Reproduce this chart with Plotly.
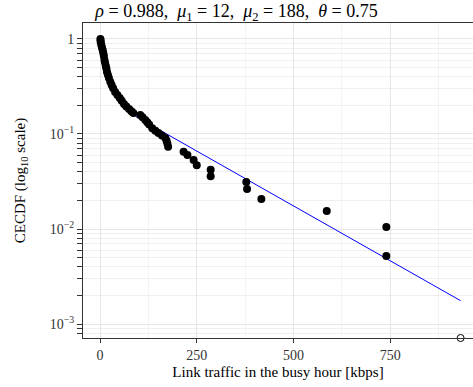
import plotly.graph_objects as go

traffic_kbps = [1, 1.5, 2, 3.4, 5, 7, 8.5, 10, 11.5, 13, 15, 16.5, 18, 20.5, 23, 26.5, 30, 34,
                39, 45, 51, 56, 62, 68, 75, 81, 86,
                104, 110, 117, 122, 127, 135, 143, 151, 160, 169, 172, 174, 176,
                216, 226, 242, 250, 286, 286, 378, 380, 417, 586, 740, 740]
cecdf = [1.0, 0.955, 0.912, 0.865, 0.813, 0.759, 0.708, 0.661, 0.601, 0.562, 0.520, 0.490,
         0.450, 0.417, 0.389, 0.355, 0.328, 0.302, 0.277, 0.257, 0.239, 0.224, 0.207, 0.195,
         0.183, 0.174, 0.166,
         0.158, 0.150, 0.140, 0.133, 0.126, 0.115, 0.108, 0.1025, 0.0966, 0.0908, 0.0851,
         0.0794, 0.0735,
         0.065, 0.060, 0.0532, 0.047, 0.042, 0.036, 0.0313, 0.0264, 0.0207, 0.0155,
         0.0105, 0.0052]

# Last point (CECDF = 0, drawn on the lower axis edge as an open circle)
zero_x = [932]
zero_y = [0.000713]

# Fitted exponential tail (straight on log scale) endpoints
fit_x = [91, 932]
fit_y = [0.154, 0.00176]

y_tickvals = [1, 0.1, 0.01, 0.001]
y_ticktext = ["1", "10<sup>\u22121</sup>", "10<sup>\u22122</sup>", "10<sup>\u22123</sup>"]
x_tickvals = [0, 250, 500, 750]
x_minor = [125, 375, 625, 875]
y_minor = [k * 10.0 ** e for e in (-4, -3, -2, -1) for k in range(2, 10)]

FONT = "Liberation Serif, DejaVu Serif, serif"

fig = go.Figure()
fig.add_trace(go.Scatter(x=fit_x, y=fit_y, mode="lines",
                         line=dict(color="#0000ff", width=1), hoverinfo="skip"))
fig.add_trace(go.Scatter(x=traffic_kbps, y=cecdf, mode="markers",
                         marker=dict(color="black", size=8, line=dict(width=0))))
fig.add_trace(go.Scatter(x=zero_x, y=zero_y, mode="markers", cliponaxis=False,
                         marker=dict(symbol="circle-open", color="black", size=7,
                                     line=dict(width=1))))

fig.update_layout(
    width=473, height=387,
    margin=dict(l=83, r=0, t=23, b=49),
    paper_bgcolor="white", plot_bgcolor="white",
    showlegend=False,
    font=dict(family=FONT, color="black", size=14),
    title=dict(
        text="<i>\u03c1</i> = 0.988,  <i>\u03bc</i><sub>1</sub> = 12,  "
             "<i>\u03bc</i><sub>2</sub> = 188,  <i>\u03b8</i> = 0.75",
        x=0.5, xanchor="center", y=0.955, yanchor="bottom",
        font=dict(family=FONT, size=18, color="black")),
    xaxis=dict(
        range=[-44, 964], tickmode="array", tickvals=x_tickvals,
        ticks="outside", ticklen=4, tickcolor="#333333", tickwidth=1,
        showline=True, linecolor="#333333", linewidth=1, mirror=True,
        showgrid=True, gridcolor="#e6e6e6", gridwidth=1, zeroline=False,
        tickfont=dict(family=FONT, size=14, color="#333333"),
        title=dict(text="Link traffic in the busy hour [kbps]", standoff=4,
                   font=dict(family=FONT, size=15, color="black")),
        minor=dict(tickmode="array", tickvals=x_minor, ticks="", showgrid=True,
                   gridcolor="#f3f3f3", gridwidth=0.6),
    ),
    yaxis=dict(
        type="log", range=[-3.147, 0.168], tickmode="array",
        tickvals=y_tickvals, ticktext=y_ticktext,
        ticks="outside", ticklen=5, tickcolor="#333333", tickwidth=1,
        showline=True, linecolor="#333333", linewidth=1,
        showgrid=True, gridcolor="#e6e6e6", gridwidth=1, zeroline=False,
        tickfont=dict(family=FONT, size=14, color="#333333"),
        title=dict(text="CECDF (log<sub>10</sub> scale)", standoff=20,
                   font=dict(family=FONT, size=15, color="black")),
        minor=dict(tickmode="array", tickvals=y_minor, ticks="outside", ticklen=5,
                   tickcolor="#333333", tickwidth=1, showgrid=True,
                   gridcolor="#efefef", gridwidth=0.6),
    ),
)

fig.write_html("out.html")
